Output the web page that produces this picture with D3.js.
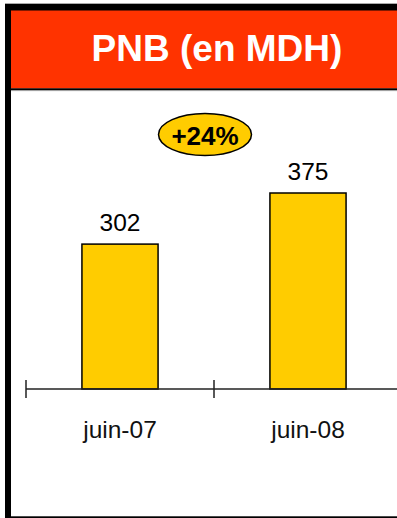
<!DOCTYPE html>
<html>
<head>
<meta charset="utf-8">
<script src="https://cdn.jsdelivr.net/npm/d3@7"></script>
<style>
  html, body { margin: 0; padding: 0; background: #fff; overflow: hidden; }
  svg { display: block; }
</style>
</head>
<body>
<script>
const categories = ["juin-07", "juin-08"];
const values = [302, 375];
const title = "PNB (en MDH)";
const growthLabel = "+24%";

const W = 397, H = 518;
const font = "'Liberation Sans', Arial, sans-serif";
const svg = d3.select("body").append("svg").attr("width", W).attr("height", H);

// frame
svg.append("rect").attr("x", 5).attr("y", 3).attr("width", W).attr("height", 1).attr("fill", "#aaa");
svg.append("rect").attr("x", 5).attr("y", 4).attr("width", W).attr("height", 7).attr("fill", "#000");
svg.append("rect").attr("x", 5).attr("y", 4).attr("width", 6).attr("height", H).attr("fill", "#000");
svg.append("rect").attr("x", 11).attr("y", 10.5).attr("width", W).attr("height", 78).attr("fill", "#FF3300");
svg.append("rect").attr("x", 11).attr("y", 88.3).attr("width", W).attr("height", 1.8).attr("fill", "#000");
svg.append("rect").attr("x", 11).attr("y", 90.1).attr("width", W).attr("height", 1).attr("fill", "#999");
svg.append("rect").attr("x", 5).attr("y", 516.3).attr("width", W).attr("height", 2).attr("fill", "#000");

svg.append("text").attr("x", 217).attr("y", 61)
  .attr("text-anchor", "middle").attr("font-family", font).attr("font-weight", "bold")
  .attr("font-size", 37).attr("fill", "#fff").text(title);

// scales
const x = d3.scaleBand().domain(categories).range([26, 402]).padding(0);
const y = d3.scaleLinear().domain([95, 375]).range([389, 193]);
const barW = x.bandwidth() * 0.405;
const baseY = 389;

// bars
svg.selectAll("rect.bar").data(values).join("rect").attr("class", "bar")
  .attr("x", (d, i) => x(categories[i]) + x.bandwidth() / 2 - barW / 2)
  .attr("y", d => y(d))
  .attr("width", barW)
  .attr("height", d => baseY - y(d))
  .attr("fill", "#FFCC00").attr("stroke", "#000").attr("stroke-width", 1.5);

// value labels
svg.selectAll("text.val").data(values).join("text").attr("class", "val")
  .attr("x", (d, i) => x(categories[i]) + x.bandwidth() / 2)
  .attr("y", d => y(d) - 13)
  .attr("text-anchor", "middle").attr("font-family", font).attr("font-size", 24.5)
  .attr("fill", "#000").text(d => d);

// axis
svg.append("line").attr("x1", x.range()[0]).attr("x2", x.range()[1])
  .attr("y1", baseY).attr("y2", baseY).attr("stroke", "#222").attr("stroke-width", 1.5);
const tickXs = categories.map(c => x(c)).concat([x.range()[1]]);
svg.selectAll("line.tick").data(tickXs).join("line").attr("class", "tick")
  .attr("x1", d => d).attr("x2", d => d)
  .attr("y1", baseY - 9).attr("y2", baseY + 9)
  .attr("stroke", "#222").attr("stroke-width", 1.5);
svg.selectAll("text.cat").data(categories).join("text").attr("class", "cat")
  .attr("x", d => x(d) + x.bandwidth() / 2)
  .attr("y", 438)
  .attr("text-anchor", "middle").attr("font-family", font).attr("font-size", 24.5)
  .attr("fill", "#111").text(d => d);

// growth ellipse
const mid = (x(categories[0]) + x(categories[1])) / 2 + x.bandwidth() / 2 - 9;
svg.append("ellipse").attr("cx", mid).attr("cy", 134.5).attr("rx", 46.5).attr("ry", 21)
  .attr("fill", "#FFCC00").attr("stroke", "#000").attr("stroke-width", 1.5);
svg.append("text").attr("x", mid).attr("y", 144.5)
  .attr("text-anchor", "middle").attr("font-family", font).attr("font-weight", "bold")
  .attr("font-size", 26).attr("fill", "#000").text(growthLabel);
</script>
</body>
</html>
